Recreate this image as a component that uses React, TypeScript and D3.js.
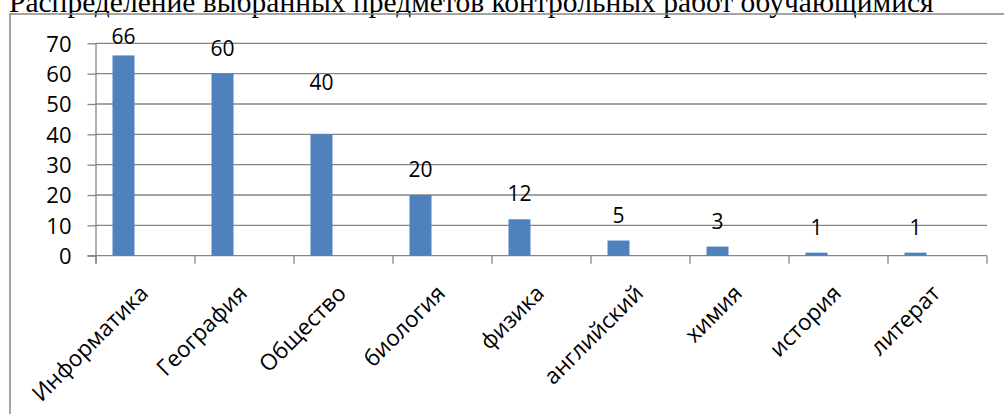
import React, { useEffect, useRef } from 'react';
import * as d3 from 'd3';

const title = 'Распределение выбранных предметов контрольных работ обучающимися';
const categories = ['Информатика', 'География', 'Общество', 'биология', 'физика', 'английский', 'химия', 'история', 'литерат'];
const values = [66, 60, 40, 20, 12, 5, 3, 1, 1];
// the source chart had three series slots, only the first one filled
const seriesSlots = ['s1', 's2', 's3'];
const yTicks = [0, 10, 20, 30, 40, 50, 60, 70];

const W = 1004;
const H = 414;

// one label was dragged higher in the original chart
const labelLift: Record<string, number> = { 'Общество': 26 };

const App: React.FC = () => {
  const svgRef = useRef<SVGSVGElement>(null);

  useEffect(() => {
    document.body.style.margin = '0';
    const svg = d3.select(svgRef.current);
    svg.selectAll('*').remove();

    const font = '"Open Sans", sans-serif';
    const grid = '#868686';

    // title (top is cut off in the original picture)
    svg.append('text')
      .attr('x', 9)
      .attr('y', 12)
      .attr('font-family', '"Liberation Serif", "Times New Roman", serif')
      .attr('font-size', 29.5)
      .attr('fill', '#000')
      .text(title);

    // chart frame
    svg.append('rect')
      .attr('x', 10)
      .attr('y', 14)
      .attr('width', 1000)
      .attr('height', 410)
      .attr('fill', 'none')
      .attr('stroke', grid)
      .attr('stroke-width', 1.5);

    const x = d3.scaleBand<string>().domain(categories).range([96, 987]).paddingInner(0).paddingOuter(0);
    const xs = d3.scaleBand<string>().domain(seriesSlots).range([0, x.bandwidth()]).paddingInner(0).paddingOuter(0.75);
    const y = d3.scaleLinear().domain([0, 70]).range([255.7, 43.3]);

    // gridlines
    svg.append('g')
      .selectAll('line')
      .data(yTicks.filter(t => t > 0))
      .enter()
      .append('line')
      .attr('x1', 96)
      .attr('x2', 987)
      .attr('y1', d => y(d))
      .attr('y2', d => y(d))
      .attr('stroke', grid)
      .attr('stroke-width', 1.3);

    // y axis
    const yAxis = svg.append('g')
      .attr('transform', 'translate(96,0)')
      .call(d3.axisLeft(y).tickValues(yTicks).tickSize(8.5).tickSizeOuter(0).tickPadding(16));
    yAxis.select('.domain').remove();
    yAxis.selectAll('line').attr('stroke', grid).attr('stroke-width', 1.3);
    yAxis.selectAll('text')
      .attr('font-family', font)
      .attr('font-size', 22)
      .attr('fill', '#000')
      .attr('dy', '0.36em');
    svg.append('line')
      .attr('x1', 96).attr('x2', 96)
      .attr('y1', y(70)).attr('y2', y(0) + 8)
      .attr('stroke', grid).attr('stroke-width', 1.3);

    // x axis line and ticks at band boundaries
    svg.append('line')
      .attr('x1', 87.5).attr('x2', 987)
      .attr('y1', y(0)).attr('y2', y(0))
      .attr('stroke', grid).attr('stroke-width', 1.3);
    const bounds = categories.map(c => (x(c) as number) + x.bandwidth()).concat([x(categories[0]) as number]);
    svg.append('g')
      .selectAll('line')
      .data(bounds)
      .enter()
      .append('line')
      .attr('x1', d => d).attr('x2', d => d)
      .attr('y1', y(0)).attr('y2', y(0) + 8)
      .attr('stroke', grid).attr('stroke-width', 1.3);

    // bars
    const slot = seriesSlots[0];
    svg.append('g')
      .selectAll('rect')
      .data(values)
      .enter()
      .append('rect')
      .attr('x', (_, i) => (x(categories[i]) as number) + (xs(slot) as number))
      .attr('y', d => y(d))
      .attr('width', xs.bandwidth())
      .attr('height', d => y(0) - y(d))
      .attr('fill', '#4F81BD');

    // value labels
    svg.append('g')
      .selectAll('text')
      .data(values)
      .enter()
      .append('text')
      .attr('x', (_, i) => (x(categories[i]) as number) + (xs(slot) as number) + xs.bandwidth() / 2)
      .attr('y', (d, i) => Math.max(y(d) - 18 - (labelLift[categories[i]] || 0), 44))
      .attr('text-anchor', 'middle')
      .attr('font-family', font)
      .attr('font-size', 21)
      .attr('fill', '#000')
      .text(d => String(d));

    // category labels
    svg.append('g')
      .selectAll('text')
      .data(categories)
      .enter()
      .append('text')
      .attr('transform', d => `translate(${(x(d) as number) + x.bandwidth() / 2 + 4},${y(0) + 39}) rotate(-45)`)
      .attr('text-anchor', 'end')
      .attr('font-family', font)
      .attr('font-size', 22.5)
      .attr('fill', '#000')
      .text(d => d);
  }, []);

  return <svg ref={svgRef} width={W} height={H} style={{ display: 'block', background: '#fff' }} />;
};

export default App;
